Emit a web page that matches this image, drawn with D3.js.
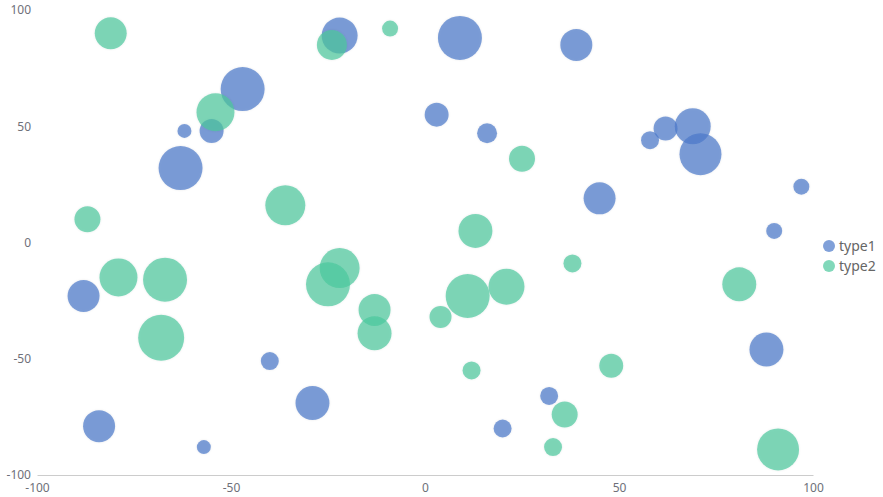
<!DOCTYPE html>
<html>
<head>
<meta charset="utf-8">
<script src="https://cdn.jsdelivr.net/npm/d3@7"></script>
<style>
  body { margin: 0; background: #fff; }
  text { font-family: "Noto Sans", "DejaVu Sans", sans-serif; }
</style>
</head>
<body>
<div id="chart"></div>
<script>
// Chart size
const CHART_WIDTH = 883
const CHART_HEIGHT = 497

// Series data: x, y, size
const seriesNames = ["type1", "type2"]
const seriesColors = ["#4a78c9", "#4cc79c"]

const type1X = [-22, 9, 39, -47, -62, -55, -63, 3, 16, 58, 62, 69, 71, 45, 97, 90, -88, -40, -29, -84, -57, 20, 32, 88]
const type1Y = [89, 88, 85, 66, 48, 48, 32, 55, 47, 44, 49, 50, 38, 19, 24, 5, -23, -51, -69, -79, -88, -80, -66, -46]
const type1Size = [72, 88, 64, 88, 28, 48, 88, 48, 40, 36, 48, 72, 84, 64, 32, 32, 64, 36, 68, 64, 28, 36, 36, 68]

const type2X = [-81, -24, -9, -54, 25, -87, -36, 13, -79, -67, -22, -25, -13, -13, 11, 21, 4, 38, -68, 12, 48, 36, 33, 81, 91]
const type2Y = [90, 85, 92, 56, 36, 10, 16, 5, -15, -16, -11, -18, -29, -39, -23, -19, -32, -9, -41, -55, -53, -74, -88, -18, -89]
const type2Size = [64, 60, 32, 76, 52, 52, 80, 68, 76, 88, 80, 88, 64, 68, 88, 72, 44, 36, 92, 36, 48, 52, 36, 68, 84]

// Axis ticks
const xTicks = [-100, -50, 0, 50, 100]
const yTicks = [-100, -50, 0, 50, 100]

init();

function init () {
  const svg = d3.select("#chart").append("svg")
    .attr("width", CHART_WIDTH)
    .attr("height", CHART_HEIGHT)

  const marginLeft = 37
  const marginRight = 70
  const marginTop = 10
  const marginBottom = 22

  const x = d3.scaleLinear()
    .domain([-100, 100])
    .range([marginLeft, CHART_WIDTH - marginRight])

  const y = d3.scaleLinear()
    .domain([-100, 100])
    .range([CHART_HEIGHT - marginBottom, marginTop])

  const r = d3.scaleLinear()
    .domain([0, 100])
    .range([0, 25])

  // plain hyphen for negative labels
  const fmt = d => String(d)

  // soft glow around bubbles
  const defs = svg.append("defs")
  const filter = defs.append("filter").attr("id", "glow")
    .attr("x", "-30%").attr("y", "-30%").attr("width", "160%").attr("height", "160%")
  filter.append("feDropShadow")
    .attr("dx", 0).attr("dy", 0)
    .attr("stdDeviation", 1.2)
    .attr("flood-color", "#000")
    .attr("flood-opacity", 0.12)

  // x axis
  const xAxis = svg.append("g")
    .attr("transform", `translate(0,${y(-100)})`)
    .call(d3.axisBottom(x).tickValues(xTicks).tickFormat(fmt).tickSize(0).tickPadding(8))
  xAxis.select(".domain").attr("stroke", "#ccc")
  xAxis.selectAll("text").attr("fill", "#6e7079").attr("font-size", 12)

  // y axis
  const yAxis = svg.append("g")
    .attr("transform", `translate(${marginLeft},0)`)
    .call(d3.axisLeft(y).tickValues(yTicks).tickFormat(fmt).tickSize(0).tickPadding(6))
  yAxis.select(".domain").remove()
  yAxis.selectAll("text").attr("fill", "#6e7079").attr("font-size", 12)

  const series = [
    { name: seriesNames[0], color: seriesColors[0], xs: type1X, ys: type1Y, sizes: type1Size },
    { name: seriesNames[1], color: seriesColors[1], xs: type2X, ys: type2Y, sizes: type2Size }
  ]

  for (const s of series) {
    const data = s.xs.map((v, i) => ({ x: v, y: s.ys[i], size: s.sizes[i] }))
    svg.append("g")
      .attr("filter", "url(#glow)")
      .selectAll("circle")
      .data(data)
      .enter().append("circle")
        .attr("cx", d => x(d.x))
        .attr("cy", d => y(d.y))
        .attr("r", d => r(d.size))
        .attr("fill", s.color)
        .attr("fill-opacity", 0.7)
  }

  // legend
  const legend = svg.append("g")
    .attr("transform", `translate(${CHART_WIDTH - 54},246)`)
  const items = legend.selectAll("g")
    .data(series)
    .enter().append("g")
      .attr("transform", (d, i) => `translate(0,${i * 20})`)
  items.append("circle")
    .attr("r", 6)
    .attr("fill", d => d.color)
    .attr("fill-opacity", 0.7)
  items.append("text")
    .attr("x", 10)
    .attr("dy", "0.35em")
    .attr("font-size", 14)
    .attr("fill", "#666")
    .text(d => d.name)
}
</script>
</body>
</html>
